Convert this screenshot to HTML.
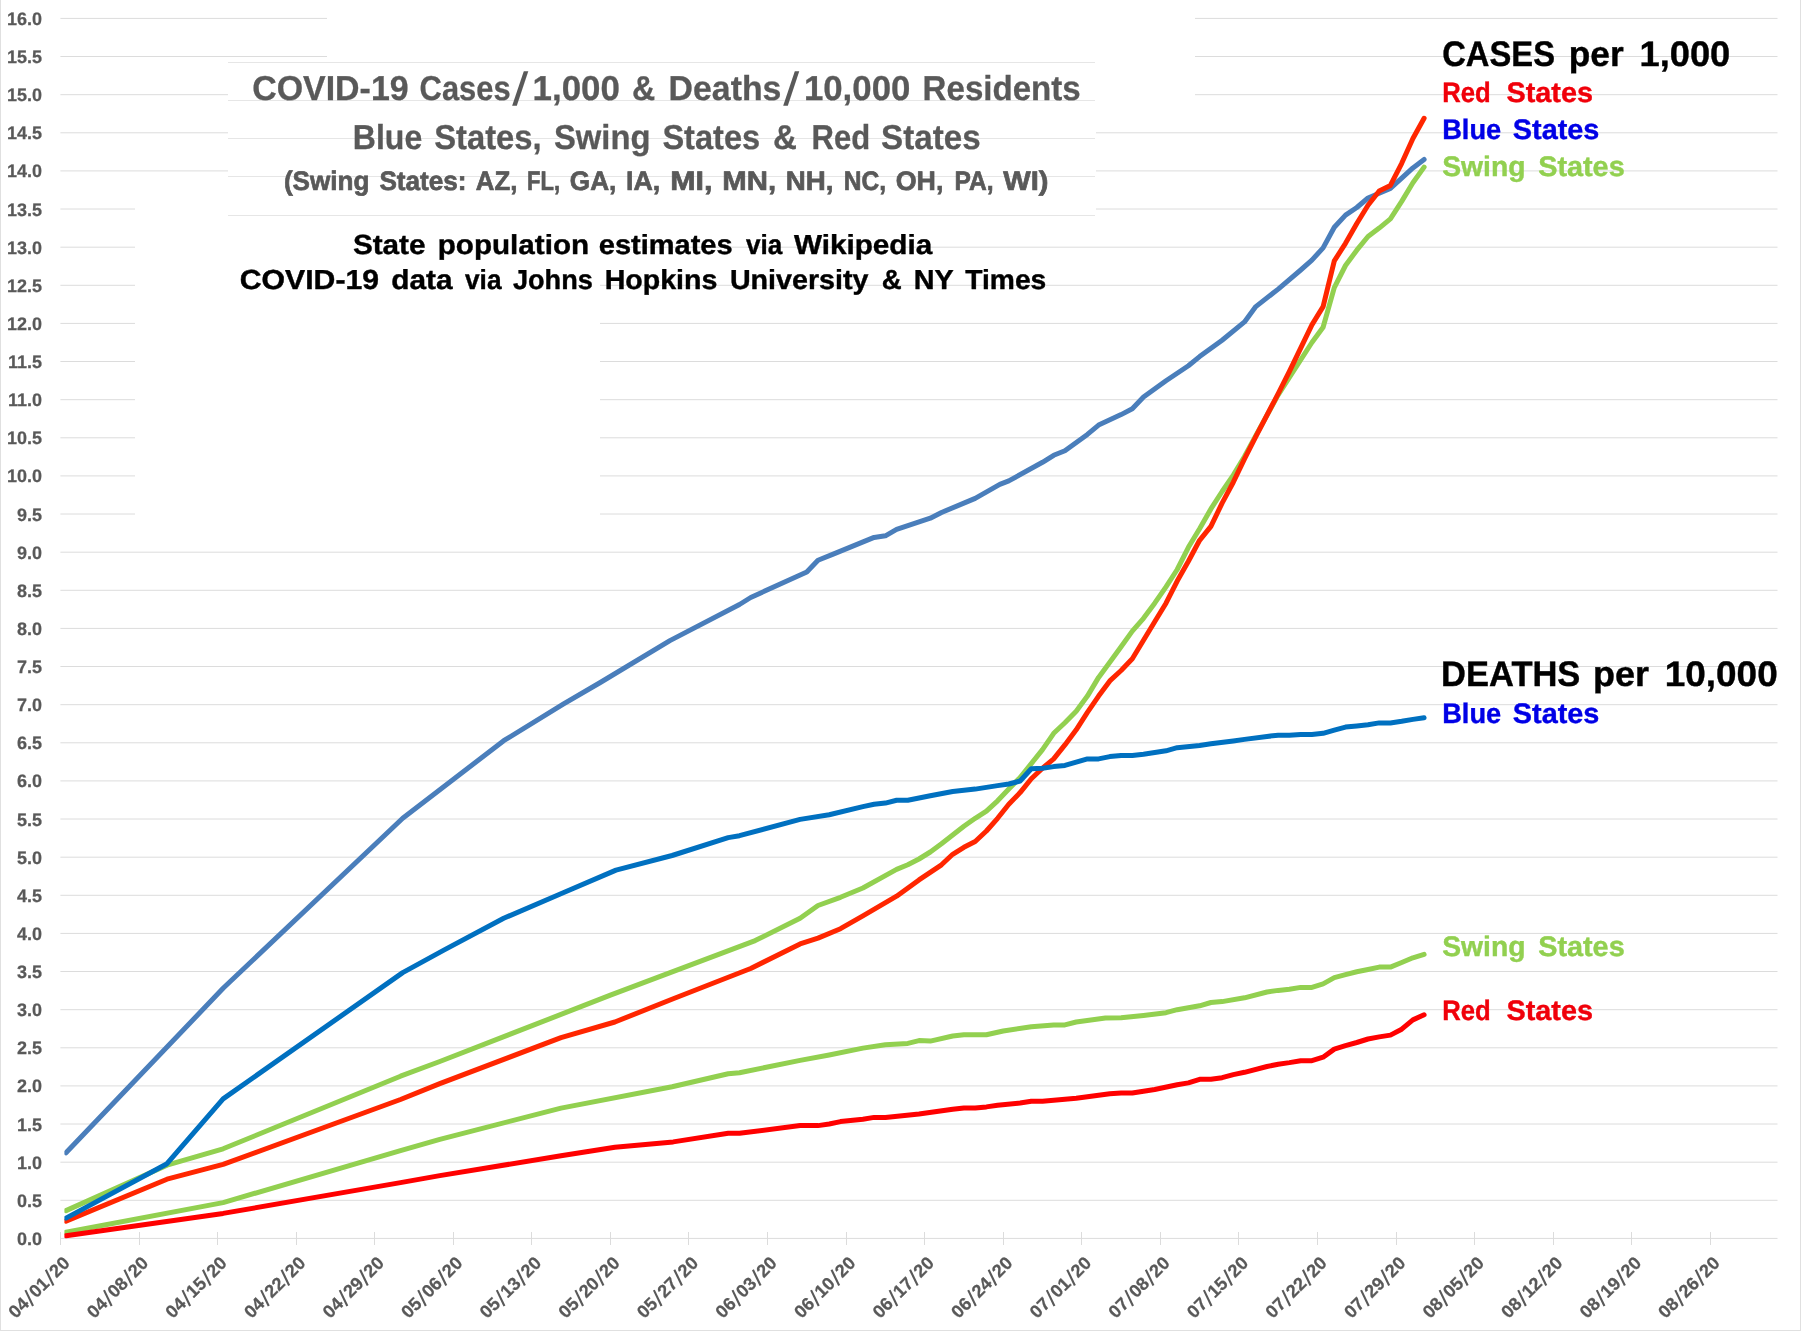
<!DOCTYPE html>
<html><head><meta charset="utf-8"><title>COVID-19 Cases and Deaths: Blue, Swing and Red States</title>
<style>
html,body{margin:0;padding:0;background:#fff;}
body{width:1801px;height:1331px;overflow:hidden;}
svg{display:block;will-change:transform;}
text{font-family:"Liberation Sans",sans-serif;font-weight:bold;text-rendering:geometricPrecision;}
.ax{fill:#595959;font-size:18px;stroke:#595959;stroke-width:0.25px;}
.ttl{fill:#595959;stroke:#595959;stroke-width:0.3px;}
.ttl3{fill:#595959;stroke:#595959;stroke-width:0.7px;}
.blk{fill:#000;stroke:#000;stroke-width:0.4px;}
.c{stroke-width:0.4px;}
</style></head><body>
<svg width="1801" height="1331" viewBox="0 0 1801 1331">
<rect x="0" y="0" width="1801" height="1331" fill="#ffffff"/>
<rect x="0" y="0" width="1" height="1331" fill="#e0e0e0"/>
<rect x="0" y="1330" width="1801" height="1" fill="#e0e0e0"/>
<rect x="1800" y="0" width="1" height="1331" fill="#e0e0e0"/>
<g stroke="#dcdcdc" stroke-width="1" fill="none">
<line x1="60.4" y1="1238.4" x2="1777.5" y2="1238.4"/>
<line x1="60.4" y1="1200.3" x2="1777.5" y2="1200.3"/>
<line x1="60.4" y1="1162.2" x2="1777.5" y2="1162.2"/>
<line x1="60.4" y1="1124.0" x2="1777.5" y2="1124.0"/>
<line x1="60.4" y1="1085.9" x2="1777.5" y2="1085.9"/>
<line x1="60.4" y1="1047.8" x2="1777.5" y2="1047.8"/>
<line x1="60.4" y1="1009.7" x2="1777.5" y2="1009.7"/>
<line x1="60.4" y1="971.5" x2="1777.5" y2="971.5"/>
<line x1="60.4" y1="933.4" x2="1777.5" y2="933.4"/>
<line x1="60.4" y1="895.3" x2="1777.5" y2="895.3"/>
<line x1="60.4" y1="857.2" x2="1777.5" y2="857.2"/>
<line x1="60.4" y1="819.0" x2="1777.5" y2="819.0"/>
<line x1="60.4" y1="780.9" x2="1777.5" y2="780.9"/>
<line x1="60.4" y1="742.8" x2="1777.5" y2="742.8"/>
<line x1="60.4" y1="704.7" x2="1777.5" y2="704.7"/>
<line x1="60.4" y1="666.5" x2="1777.5" y2="666.5"/>
<line x1="60.4" y1="628.4" x2="1777.5" y2="628.4"/>
<line x1="60.4" y1="590.3" x2="1777.5" y2="590.3"/>
<line x1="60.4" y1="552.2" x2="1777.5" y2="552.2"/>
<line x1="60.4" y1="514.0" x2="135.0" y2="514.0"/>
<line x1="600.0" y1="514.0" x2="1777.5" y2="514.0"/>
<line x1="60.4" y1="475.9" x2="135.0" y2="475.9"/>
<line x1="600.0" y1="475.9" x2="1777.5" y2="475.9"/>
<line x1="60.4" y1="437.8" x2="135.0" y2="437.8"/>
<line x1="600.0" y1="437.8" x2="1777.5" y2="437.8"/>
<line x1="60.4" y1="399.7" x2="135.0" y2="399.7"/>
<line x1="600.0" y1="399.7" x2="1777.5" y2="399.7"/>
<line x1="60.4" y1="361.5" x2="135.0" y2="361.5"/>
<line x1="600.0" y1="361.5" x2="1777.5" y2="361.5"/>
<line x1="60.4" y1="323.4" x2="135.0" y2="323.4"/>
<line x1="600.0" y1="323.4" x2="1777.5" y2="323.4"/>
<line x1="60.4" y1="285.3" x2="135.0" y2="285.3"/>
<line x1="600.0" y1="285.3" x2="1777.5" y2="285.3"/>
<line x1="60.4" y1="247.2" x2="135.0" y2="247.2"/>
<line x1="600.0" y1="247.2" x2="1777.5" y2="247.2"/>
<line x1="60.4" y1="209.0" x2="135.0" y2="209.0"/>
<line x1="1096.0" y1="209.0" x2="1777.5" y2="209.0"/>
<line x1="60.4" y1="170.9" x2="228.0" y2="170.9"/>
<line x1="1096.0" y1="170.9" x2="1777.5" y2="170.9"/>
<line x1="60.4" y1="132.8" x2="228.0" y2="132.8"/>
<line x1="1096.0" y1="132.8" x2="1777.5" y2="132.8"/>
<line x1="60.4" y1="94.7" x2="228.0" y2="94.7"/>
<line x1="1195.0" y1="94.7" x2="1777.5" y2="94.7"/>
<line x1="60.4" y1="56.5" x2="327.0" y2="56.5"/>
<line x1="1195.0" y1="56.5" x2="1777.5" y2="56.5"/>
<line x1="60.4" y1="18.4" x2="327.0" y2="18.4"/>
<line x1="1195.0" y1="18.4" x2="1777.5" y2="18.4"/>
</g>
<g stroke="#e6e6e6" stroke-width="1" fill="none" shape-rendering="crispEdges">
<line x1="228" y1="62.3" x2="1095" y2="62.3"/>
<line x1="228" y1="100.5" x2="1095" y2="100.5"/>
<line x1="228" y1="138.4" x2="1095" y2="138.4"/>
<line x1="228" y1="176.3" x2="1095" y2="176.3"/>
<line x1="228" y1="215.3" x2="1095" y2="215.3"/>
</g>
<g stroke="#dcdcdc" stroke-width="1" fill="none" shape-rendering="crispEdges">
<line x1="60.4" y1="1231.9" x2="60.4" y2="1244.9"/>
<line x1="139.0" y1="1231.9" x2="139.0" y2="1244.9"/>
<line x1="217.5" y1="1231.9" x2="217.5" y2="1244.9"/>
<line x1="296.1" y1="1231.9" x2="296.1" y2="1244.9"/>
<line x1="374.7" y1="1231.9" x2="374.7" y2="1244.9"/>
<line x1="453.2" y1="1231.9" x2="453.2" y2="1244.9"/>
<line x1="531.8" y1="1231.9" x2="531.8" y2="1244.9"/>
<line x1="610.4" y1="1231.9" x2="610.4" y2="1244.9"/>
<line x1="688.9" y1="1231.9" x2="688.9" y2="1244.9"/>
<line x1="767.5" y1="1231.9" x2="767.5" y2="1244.9"/>
<line x1="846.1" y1="1231.9" x2="846.1" y2="1244.9"/>
<line x1="924.6" y1="1231.9" x2="924.6" y2="1244.9"/>
<line x1="1003.2" y1="1231.9" x2="1003.2" y2="1244.9"/>
<line x1="1081.8" y1="1231.9" x2="1081.8" y2="1244.9"/>
<line x1="1160.4" y1="1231.9" x2="1160.4" y2="1244.9"/>
<line x1="1238.9" y1="1231.9" x2="1238.9" y2="1244.9"/>
<line x1="1317.5" y1="1231.9" x2="1317.5" y2="1244.9"/>
<line x1="1396.1" y1="1231.9" x2="1396.1" y2="1244.9"/>
<line x1="1474.6" y1="1231.9" x2="1474.6" y2="1244.9"/>
<line x1="1553.2" y1="1231.9" x2="1553.2" y2="1244.9"/>
<line x1="1631.8" y1="1231.9" x2="1631.8" y2="1244.9"/>
<line x1="1710.3" y1="1231.9" x2="1710.3" y2="1244.9"/>
</g>
<g class="ax" text-anchor="end">
<text x="42.0" y="1244.9">0.0</text>
<text x="42.0" y="1206.8">0.5</text>
<text x="42.0" y="1168.7">1.0</text>
<text x="42.0" y="1130.5">1.5</text>
<text x="42.0" y="1092.4">2.0</text>
<text x="42.0" y="1054.3">2.5</text>
<text x="42.0" y="1016.2">3.0</text>
<text x="42.0" y="978.0">3.5</text>
<text x="42.0" y="939.9">4.0</text>
<text x="42.0" y="901.8">4.5</text>
<text x="42.0" y="863.7">5.0</text>
<text x="42.0" y="825.5">5.5</text>
<text x="42.0" y="787.4">6.0</text>
<text x="42.0" y="749.3">6.5</text>
<text x="42.0" y="711.2">7.0</text>
<text x="42.0" y="673.0">7.5</text>
<text x="42.0" y="634.9">8.0</text>
<text x="42.0" y="596.8">8.5</text>
<text x="42.0" y="558.7">9.0</text>
<text x="42.0" y="520.5">9.5</text>
<text x="42.0" y="482.4">10.0</text>
<text x="42.0" y="444.3">10.5</text>
<text x="42.0" y="406.2">11.0</text>
<text x="42.0" y="368.0">11.5</text>
<text x="42.0" y="329.9">12.0</text>
<text x="42.0" y="291.8">12.5</text>
<text x="42.0" y="253.7">13.0</text>
<text x="42.0" y="215.5">13.5</text>
<text x="42.0" y="177.4">14.0</text>
<text x="42.0" y="139.3">14.5</text>
<text x="42.0" y="101.2">15.0</text>
<text x="42.0" y="63.0">15.5</text>
<text x="42.0" y="24.9">16.0</text>
</g>
<g class="ax">
<g transform="translate(70.9,1264.1) rotate(-45)">
<text x="-78.04" y="0" textLength="20.28" lengthAdjust="spacingAndGlyphs">04</text>
<line x1="-56.36" y1="2.8" x2="-50.56" y2="-13.8" stroke="#595959" stroke-width="2.1"/>
<text x="-49.16" y="0" textLength="20.28" lengthAdjust="spacingAndGlyphs">01</text>
<line x1="-27.48" y1="2.8" x2="-21.68" y2="-13.8" stroke="#595959" stroke-width="2.1"/>
<text x="-20.28" y="0" textLength="20.28" lengthAdjust="spacingAndGlyphs">20</text>
</g>
<g transform="translate(149.5,1264.1) rotate(-45)">
<text x="-78.04" y="0" textLength="20.28" lengthAdjust="spacingAndGlyphs">04</text>
<line x1="-56.36" y1="2.8" x2="-50.56" y2="-13.8" stroke="#595959" stroke-width="2.1"/>
<text x="-49.16" y="0" textLength="20.28" lengthAdjust="spacingAndGlyphs">08</text>
<line x1="-27.48" y1="2.8" x2="-21.68" y2="-13.8" stroke="#595959" stroke-width="2.1"/>
<text x="-20.28" y="0" textLength="20.28" lengthAdjust="spacingAndGlyphs">20</text>
</g>
<g transform="translate(228.0,1264.1) rotate(-45)">
<text x="-78.04" y="0" textLength="20.28" lengthAdjust="spacingAndGlyphs">04</text>
<line x1="-56.36" y1="2.8" x2="-50.56" y2="-13.8" stroke="#595959" stroke-width="2.1"/>
<text x="-49.16" y="0" textLength="20.28" lengthAdjust="spacingAndGlyphs">15</text>
<line x1="-27.48" y1="2.8" x2="-21.68" y2="-13.8" stroke="#595959" stroke-width="2.1"/>
<text x="-20.28" y="0" textLength="20.28" lengthAdjust="spacingAndGlyphs">20</text>
</g>
<g transform="translate(306.6,1264.1) rotate(-45)">
<text x="-78.04" y="0" textLength="20.28" lengthAdjust="spacingAndGlyphs">04</text>
<line x1="-56.36" y1="2.8" x2="-50.56" y2="-13.8" stroke="#595959" stroke-width="2.1"/>
<text x="-49.16" y="0" textLength="20.28" lengthAdjust="spacingAndGlyphs">22</text>
<line x1="-27.48" y1="2.8" x2="-21.68" y2="-13.8" stroke="#595959" stroke-width="2.1"/>
<text x="-20.28" y="0" textLength="20.28" lengthAdjust="spacingAndGlyphs">20</text>
</g>
<g transform="translate(385.2,1264.1) rotate(-45)">
<text x="-78.04" y="0" textLength="20.28" lengthAdjust="spacingAndGlyphs">04</text>
<line x1="-56.36" y1="2.8" x2="-50.56" y2="-13.8" stroke="#595959" stroke-width="2.1"/>
<text x="-49.16" y="0" textLength="20.28" lengthAdjust="spacingAndGlyphs">29</text>
<line x1="-27.48" y1="2.8" x2="-21.68" y2="-13.8" stroke="#595959" stroke-width="2.1"/>
<text x="-20.28" y="0" textLength="20.28" lengthAdjust="spacingAndGlyphs">20</text>
</g>
<g transform="translate(463.7,1264.1) rotate(-45)">
<text x="-78.04" y="0" textLength="20.28" lengthAdjust="spacingAndGlyphs">05</text>
<line x1="-56.36" y1="2.8" x2="-50.56" y2="-13.8" stroke="#595959" stroke-width="2.1"/>
<text x="-49.16" y="0" textLength="20.28" lengthAdjust="spacingAndGlyphs">06</text>
<line x1="-27.48" y1="2.8" x2="-21.68" y2="-13.8" stroke="#595959" stroke-width="2.1"/>
<text x="-20.28" y="0" textLength="20.28" lengthAdjust="spacingAndGlyphs">20</text>
</g>
<g transform="translate(542.3,1264.1) rotate(-45)">
<text x="-78.04" y="0" textLength="20.28" lengthAdjust="spacingAndGlyphs">05</text>
<line x1="-56.36" y1="2.8" x2="-50.56" y2="-13.8" stroke="#595959" stroke-width="2.1"/>
<text x="-49.16" y="0" textLength="20.28" lengthAdjust="spacingAndGlyphs">13</text>
<line x1="-27.48" y1="2.8" x2="-21.68" y2="-13.8" stroke="#595959" stroke-width="2.1"/>
<text x="-20.28" y="0" textLength="20.28" lengthAdjust="spacingAndGlyphs">20</text>
</g>
<g transform="translate(620.9,1264.1) rotate(-45)">
<text x="-78.04" y="0" textLength="20.28" lengthAdjust="spacingAndGlyphs">05</text>
<line x1="-56.36" y1="2.8" x2="-50.56" y2="-13.8" stroke="#595959" stroke-width="2.1"/>
<text x="-49.16" y="0" textLength="20.28" lengthAdjust="spacingAndGlyphs">20</text>
<line x1="-27.48" y1="2.8" x2="-21.68" y2="-13.8" stroke="#595959" stroke-width="2.1"/>
<text x="-20.28" y="0" textLength="20.28" lengthAdjust="spacingAndGlyphs">20</text>
</g>
<g transform="translate(699.4,1264.1) rotate(-45)">
<text x="-78.04" y="0" textLength="20.28" lengthAdjust="spacingAndGlyphs">05</text>
<line x1="-56.36" y1="2.8" x2="-50.56" y2="-13.8" stroke="#595959" stroke-width="2.1"/>
<text x="-49.16" y="0" textLength="20.28" lengthAdjust="spacingAndGlyphs">27</text>
<line x1="-27.48" y1="2.8" x2="-21.68" y2="-13.8" stroke="#595959" stroke-width="2.1"/>
<text x="-20.28" y="0" textLength="20.28" lengthAdjust="spacingAndGlyphs">20</text>
</g>
<g transform="translate(778.0,1264.1) rotate(-45)">
<text x="-78.04" y="0" textLength="20.28" lengthAdjust="spacingAndGlyphs">06</text>
<line x1="-56.36" y1="2.8" x2="-50.56" y2="-13.8" stroke="#595959" stroke-width="2.1"/>
<text x="-49.16" y="0" textLength="20.28" lengthAdjust="spacingAndGlyphs">03</text>
<line x1="-27.48" y1="2.8" x2="-21.68" y2="-13.8" stroke="#595959" stroke-width="2.1"/>
<text x="-20.28" y="0" textLength="20.28" lengthAdjust="spacingAndGlyphs">20</text>
</g>
<g transform="translate(856.6,1264.1) rotate(-45)">
<text x="-78.04" y="0" textLength="20.28" lengthAdjust="spacingAndGlyphs">06</text>
<line x1="-56.36" y1="2.8" x2="-50.56" y2="-13.8" stroke="#595959" stroke-width="2.1"/>
<text x="-49.16" y="0" textLength="20.28" lengthAdjust="spacingAndGlyphs">10</text>
<line x1="-27.48" y1="2.8" x2="-21.68" y2="-13.8" stroke="#595959" stroke-width="2.1"/>
<text x="-20.28" y="0" textLength="20.28" lengthAdjust="spacingAndGlyphs">20</text>
</g>
<g transform="translate(935.1,1264.1) rotate(-45)">
<text x="-78.04" y="0" textLength="20.28" lengthAdjust="spacingAndGlyphs">06</text>
<line x1="-56.36" y1="2.8" x2="-50.56" y2="-13.8" stroke="#595959" stroke-width="2.1"/>
<text x="-49.16" y="0" textLength="20.28" lengthAdjust="spacingAndGlyphs">17</text>
<line x1="-27.48" y1="2.8" x2="-21.68" y2="-13.8" stroke="#595959" stroke-width="2.1"/>
<text x="-20.28" y="0" textLength="20.28" lengthAdjust="spacingAndGlyphs">20</text>
</g>
<g transform="translate(1013.7,1264.1) rotate(-45)">
<text x="-78.04" y="0" textLength="20.28" lengthAdjust="spacingAndGlyphs">06</text>
<line x1="-56.36" y1="2.8" x2="-50.56" y2="-13.8" stroke="#595959" stroke-width="2.1"/>
<text x="-49.16" y="0" textLength="20.28" lengthAdjust="spacingAndGlyphs">24</text>
<line x1="-27.48" y1="2.8" x2="-21.68" y2="-13.8" stroke="#595959" stroke-width="2.1"/>
<text x="-20.28" y="0" textLength="20.28" lengthAdjust="spacingAndGlyphs">20</text>
</g>
<g transform="translate(1092.3,1264.1) rotate(-45)">
<text x="-78.04" y="0" textLength="20.28" lengthAdjust="spacingAndGlyphs">07</text>
<line x1="-56.36" y1="2.8" x2="-50.56" y2="-13.8" stroke="#595959" stroke-width="2.1"/>
<text x="-49.16" y="0" textLength="20.28" lengthAdjust="spacingAndGlyphs">01</text>
<line x1="-27.48" y1="2.8" x2="-21.68" y2="-13.8" stroke="#595959" stroke-width="2.1"/>
<text x="-20.28" y="0" textLength="20.28" lengthAdjust="spacingAndGlyphs">20</text>
</g>
<g transform="translate(1170.9,1264.1) rotate(-45)">
<text x="-78.04" y="0" textLength="20.28" lengthAdjust="spacingAndGlyphs">07</text>
<line x1="-56.36" y1="2.8" x2="-50.56" y2="-13.8" stroke="#595959" stroke-width="2.1"/>
<text x="-49.16" y="0" textLength="20.28" lengthAdjust="spacingAndGlyphs">08</text>
<line x1="-27.48" y1="2.8" x2="-21.68" y2="-13.8" stroke="#595959" stroke-width="2.1"/>
<text x="-20.28" y="0" textLength="20.28" lengthAdjust="spacingAndGlyphs">20</text>
</g>
<g transform="translate(1249.4,1264.1) rotate(-45)">
<text x="-78.04" y="0" textLength="20.28" lengthAdjust="spacingAndGlyphs">07</text>
<line x1="-56.36" y1="2.8" x2="-50.56" y2="-13.8" stroke="#595959" stroke-width="2.1"/>
<text x="-49.16" y="0" textLength="20.28" lengthAdjust="spacingAndGlyphs">15</text>
<line x1="-27.48" y1="2.8" x2="-21.68" y2="-13.8" stroke="#595959" stroke-width="2.1"/>
<text x="-20.28" y="0" textLength="20.28" lengthAdjust="spacingAndGlyphs">20</text>
</g>
<g transform="translate(1328.0,1264.1) rotate(-45)">
<text x="-78.04" y="0" textLength="20.28" lengthAdjust="spacingAndGlyphs">07</text>
<line x1="-56.36" y1="2.8" x2="-50.56" y2="-13.8" stroke="#595959" stroke-width="2.1"/>
<text x="-49.16" y="0" textLength="20.28" lengthAdjust="spacingAndGlyphs">22</text>
<line x1="-27.48" y1="2.8" x2="-21.68" y2="-13.8" stroke="#595959" stroke-width="2.1"/>
<text x="-20.28" y="0" textLength="20.28" lengthAdjust="spacingAndGlyphs">20</text>
</g>
<g transform="translate(1406.6,1264.1) rotate(-45)">
<text x="-78.04" y="0" textLength="20.28" lengthAdjust="spacingAndGlyphs">07</text>
<line x1="-56.36" y1="2.8" x2="-50.56" y2="-13.8" stroke="#595959" stroke-width="2.1"/>
<text x="-49.16" y="0" textLength="20.28" lengthAdjust="spacingAndGlyphs">29</text>
<line x1="-27.48" y1="2.8" x2="-21.68" y2="-13.8" stroke="#595959" stroke-width="2.1"/>
<text x="-20.28" y="0" textLength="20.28" lengthAdjust="spacingAndGlyphs">20</text>
</g>
<g transform="translate(1485.1,1264.1) rotate(-45)">
<text x="-78.04" y="0" textLength="20.28" lengthAdjust="spacingAndGlyphs">08</text>
<line x1="-56.36" y1="2.8" x2="-50.56" y2="-13.8" stroke="#595959" stroke-width="2.1"/>
<text x="-49.16" y="0" textLength="20.28" lengthAdjust="spacingAndGlyphs">05</text>
<line x1="-27.48" y1="2.8" x2="-21.68" y2="-13.8" stroke="#595959" stroke-width="2.1"/>
<text x="-20.28" y="0" textLength="20.28" lengthAdjust="spacingAndGlyphs">20</text>
</g>
<g transform="translate(1563.7,1264.1) rotate(-45)">
<text x="-78.04" y="0" textLength="20.28" lengthAdjust="spacingAndGlyphs">08</text>
<line x1="-56.36" y1="2.8" x2="-50.56" y2="-13.8" stroke="#595959" stroke-width="2.1"/>
<text x="-49.16" y="0" textLength="20.28" lengthAdjust="spacingAndGlyphs">12</text>
<line x1="-27.48" y1="2.8" x2="-21.68" y2="-13.8" stroke="#595959" stroke-width="2.1"/>
<text x="-20.28" y="0" textLength="20.28" lengthAdjust="spacingAndGlyphs">20</text>
</g>
<g transform="translate(1642.3,1264.1) rotate(-45)">
<text x="-78.04" y="0" textLength="20.28" lengthAdjust="spacingAndGlyphs">08</text>
<line x1="-56.36" y1="2.8" x2="-50.56" y2="-13.8" stroke="#595959" stroke-width="2.1"/>
<text x="-49.16" y="0" textLength="20.28" lengthAdjust="spacingAndGlyphs">19</text>
<line x1="-27.48" y1="2.8" x2="-21.68" y2="-13.8" stroke="#595959" stroke-width="2.1"/>
<text x="-20.28" y="0" textLength="20.28" lengthAdjust="spacingAndGlyphs">20</text>
</g>
<g transform="translate(1720.8,1264.1) rotate(-45)">
<text x="-78.04" y="0" textLength="20.28" lengthAdjust="spacingAndGlyphs">08</text>
<line x1="-56.36" y1="2.8" x2="-50.56" y2="-13.8" stroke="#595959" stroke-width="2.1"/>
<text x="-49.16" y="0" textLength="20.28" lengthAdjust="spacingAndGlyphs">26</text>
<line x1="-27.48" y1="2.8" x2="-21.68" y2="-13.8" stroke="#595959" stroke-width="2.1"/>
<text x="-20.28" y="0" textLength="20.28" lengthAdjust="spacingAndGlyphs">20</text>
</g>
</g>
<defs><clipPath id="cp"><rect x="64.4" y="0" width="1800" height="1331"/></clipPath></defs>
<g fill="none" stroke-width="5" stroke-linecap="round" stroke-linejoin="round" clip-path="url(#cp)">
<polyline stroke="#4a7ebb" points="66.0,1152.8 223.1,988.3 402.7,818.3 503.7,740.7 563.2,704.2 600.3,682.5 669.9,640.6 739.5,604.5 750.7,597.5 806.8,572.0 818.0,560.2 832.6,554.4 874.1,537.4 885.4,535.8 896.6,529.4 930.3,518.2 941.5,512.5 975.2,498.4 999.8,484.4 1008.8,480.9 1042.5,462.3 1053.7,455.3 1064.9,450.7 1087.4,434.4 1098.6,425.1 1121.1,414.6 1132.3,408.8 1143.5,397.1 1166.0,380.8 1188.4,365.7 1199.6,356.6 1222.1,340.2 1244.5,321.9 1255.8,306.6 1278.2,289.1 1300.7,270.0 1311.9,260.1 1323.1,247.9 1334.3,227.3 1345.5,215.1 1356.8,207.5 1368.0,198.0 1379.2,193.3 1390.4,188.4 1401.7,178.1 1412.9,167.9 1424.1,159.5"/>
<polyline stroke="#92d050" points="66.0,1210.6 167.0,1165.2 223.1,1148.8 400.5,1076.2 439.8,1061.5 610.4,995.2 755.2,940.6 800.1,918.3 818.0,905.5 840.5,897.3 862.9,888.0 896.6,869.4 907.8,864.8 919.0,859.0 930.3,852.0 941.5,843.8 963.9,826.3 975.2,818.3 986.4,811.2 997.6,800.8 1008.8,789.1 1020.1,777.5 1031.3,763.6 1042.5,749.6 1053.7,733.3 1064.9,722.8 1076.2,711.2 1087.4,696.1 1098.6,677.4 1109.8,662.3 1121.1,646.7 1132.3,631.1 1143.5,618.3 1154.7,603.2 1166.0,586.9 1177.2,569.5 1188.4,547.3 1199.6,528.7 1210.9,508.9 1222.1,491.5 1233.3,475.1 1244.5,456.5 1255.8,435.6 1278.2,394.8 1289.4,377.4 1311.9,342.5 1323.1,327.2 1334.3,287.6 1345.5,265.5 1356.8,250.2 1368.0,236.5 1379.2,228.1 1390.4,218.9 1401.7,201.4 1412.9,182.8 1424.1,167.1"/>
<polyline stroke="#ff2600" points="66.0,1221.1 167.0,1179.2 223.1,1164.4 400.5,1099.5 439.8,1083.6 561.0,1037.6 614.9,1022.0 673.2,998.7 750.7,968.5 800.1,943.9 818.0,938.1 840.5,928.7 862.9,915.9 896.6,896.2 919.0,879.9 941.5,864.8 952.7,854.3 963.9,847.3 975.2,841.5 986.4,831.0 997.6,818.3 1008.8,804.3 1020.1,792.6 1031.3,778.7 1042.5,768.2 1053.7,758.9 1064.9,744.9 1076.2,729.8 1087.4,712.4 1098.6,696.1 1109.8,680.9 1121.1,670.5 1132.3,658.8 1143.5,640.2 1154.7,621.8 1166.0,603.2 1177.2,581.1 1188.4,561.3 1199.6,540.3 1210.9,526.4 1222.1,503.1 1233.3,482.2 1244.5,458.9 1255.8,436.7 1278.2,393.6 1289.4,371.5 1311.9,324.9 1323.1,306.6 1334.3,260.9 1345.5,243.3 1356.8,223.5 1368.0,205.2 1379.2,191.0 1390.4,185.4 1401.7,163.3 1412.9,138.5 1424.1,118.3"/>
<polyline stroke="#0070c0" points="66.0,1218.1 167.0,1163.7 223.1,1098.9 402.7,972.6 444.3,949.9 503.7,918.3 563.2,892.7 616.0,870.1 672.1,855.5 728.2,837.6 739.5,835.7 800.1,819.4 829.2,814.8 862.9,806.6 874.1,804.3 885.4,803.1 896.6,800.3 907.8,800.3 930.3,795.7 952.7,791.5 975.2,789.1 997.6,785.6 1008.8,784.0 1020.1,781.0 1031.3,768.7 1042.5,768.2 1053.7,766.6 1064.9,765.4 1087.4,758.9 1098.6,758.9 1109.8,756.6 1121.1,755.4 1132.3,755.4 1143.5,754.2 1166.0,750.8 1177.2,747.7 1199.6,745.4 1210.9,743.8 1233.3,741.0 1244.5,739.4 1267.0,736.4 1278.2,735.2 1289.4,735.2 1300.7,734.5 1311.9,734.5 1323.1,733.3 1334.3,730.1 1345.5,727.1 1356.8,725.9 1368.0,724.7 1379.2,722.9 1390.4,722.9 1401.7,721.3 1412.9,719.4 1424.1,717.8"/>
<polyline stroke="#92d050" points="66.0,1232.3 223.1,1202.6 400.5,1150.7 439.8,1139.3 561.0,1108.1 672.1,1086.7 728.2,1073.7 739.5,1072.7 800.1,1060.4 829.2,1055.0 862.9,1048.1 885.4,1044.7 907.8,1043.4 919.0,1040.6 930.3,1041.1 952.7,1036.0 963.9,1034.8 986.4,1034.8 1003.2,1031.0 1031.3,1026.7 1053.7,1024.9 1064.9,1024.9 1076.2,1022.0 1105.4,1018.0 1121.1,1017.8 1143.5,1015.5 1166.0,1012.7 1177.2,1009.7 1199.6,1005.8 1210.9,1002.5 1222.1,1001.6 1244.5,997.8 1267.0,992.0 1278.2,990.4 1289.4,989.2 1300.7,987.4 1311.9,987.4 1323.1,983.9 1334.3,977.6 1345.5,974.6 1356.8,971.8 1368.0,969.5 1379.2,967.1 1390.4,967.1 1401.7,962.5 1412.9,957.8 1424.1,954.4"/>
<polyline stroke="#ff0000" points="66.0,1235.8 223.1,1213.4 400.5,1182.6 439.8,1175.6 561.0,1155.8 614.9,1147.2 673.2,1141.9 728.2,1133.3 739.5,1133.3 800.1,1125.6 818.0,1125.6 829.2,1124.0 840.5,1121.6 862.9,1119.3 874.1,1117.4 885.4,1117.4 919.0,1114.0 952.7,1109.3 963.9,1108.1 975.2,1108.1 986.4,1106.9 997.6,1105.3 1020.1,1103.0 1031.3,1101.2 1042.5,1101.2 1076.2,1098.3 1109.8,1093.7 1121.1,1093.0 1132.3,1093.0 1154.7,1089.5 1177.2,1084.8 1188.4,1082.9 1199.6,1079.3 1210.9,1079.3 1222.1,1077.7 1233.3,1074.6 1244.5,1072.3 1267.0,1066.5 1278.2,1064.2 1289.4,1062.6 1300.7,1060.7 1311.9,1060.7 1323.1,1057.2 1334.3,1049.1 1345.5,1045.6 1356.8,1042.5 1368.0,1039.0 1379.2,1036.9 1390.4,1035.1 1401.7,1029.2 1412.9,1019.9 1424.1,1014.8"/>
</g>
<text class="ttl" x="252.20" y="99.6" font-size="34.5" textLength="156.41" lengthAdjust="spacingAndGlyphs">COVID-19</text>
<text class="ttl" x="419.60" y="99.6" font-size="34.5" textLength="90.99" lengthAdjust="spacingAndGlyphs">Cases</text>
<text class="ttl" x="532.60" y="99.6" font-size="34.5" textLength="87.32" lengthAdjust="spacingAndGlyphs">1,000</text>
<text class="ttl" x="632.10" y="99.6" font-size="34.5" textLength="23.21" lengthAdjust="spacingAndGlyphs">&amp;</text>
<text class="ttl" x="668.60" y="99.6" font-size="34.5" textLength="112.78" lengthAdjust="spacingAndGlyphs">Deaths</text>
<text class="ttl" x="803.90" y="99.6" font-size="34.5" textLength="106.49" lengthAdjust="spacingAndGlyphs">10,000</text>
<text class="ttl" x="922.60" y="99.6" font-size="34.5" textLength="158.11" lengthAdjust="spacingAndGlyphs">Residents</text>
<polygon fill="#595959" points="512.15,105.8 516.8,105.8 528.3,71.2 523.8,71.2"/>
<polygon fill="#595959" points="783.2,105.8 787.8,105.8 799.25,71.2 794.8,71.2"/>
<text class="ttl" x="352.80" y="148.6" font-size="34.5" textLength="69.40" lengthAdjust="spacingAndGlyphs">Blue</text>
<text class="ttl" x="434.20" y="148.6" font-size="34.5" textLength="107.51" lengthAdjust="spacingAndGlyphs">States,</text>
<text class="ttl" x="554.00" y="148.6" font-size="34.5" textLength="96.51" lengthAdjust="spacingAndGlyphs">Swing</text>
<text class="ttl" x="662.40" y="148.6" font-size="34.5" textLength="97.78" lengthAdjust="spacingAndGlyphs">States</text>
<text class="ttl" x="772.90" y="148.6" font-size="34.5" textLength="23.91" lengthAdjust="spacingAndGlyphs">&amp;</text>
<text class="ttl" x="811.50" y="148.6" font-size="34.5" textLength="58.61" lengthAdjust="spacingAndGlyphs">Red</text>
<text class="ttl" x="881.10" y="148.6" font-size="34.5" textLength="99.48" lengthAdjust="spacingAndGlyphs">States</text>
<text class="ttl3" x="283.90" y="189.5" font-size="26.8" textLength="85.51" lengthAdjust="spacingAndGlyphs">(Swing</text>
<text class="ttl3" x="379.40" y="189.5" font-size="26.8" textLength="87.19" lengthAdjust="spacingAndGlyphs">States:</text>
<text class="ttl3" x="475.80" y="189.5" font-size="26.8" textLength="41.50" lengthAdjust="spacingAndGlyphs">AZ,</text>
<text class="ttl3" x="527.10" y="189.5" font-size="26.8" textLength="32.89" lengthAdjust="spacingAndGlyphs">FL,</text>
<text class="ttl3" x="569.80" y="189.5" font-size="26.8" textLength="46.50" lengthAdjust="spacingAndGlyphs">GA,</text>
<text class="ttl3" x="626.00" y="189.5" font-size="26.8" textLength="34.20" lengthAdjust="spacingAndGlyphs">IA,</text>
<text class="ttl3" x="670.30" y="189.5" font-size="26.8" textLength="42.19" lengthAdjust="spacingAndGlyphs">MI,</text>
<text class="ttl3" x="722.30" y="189.5" font-size="26.8" textLength="53.80" lengthAdjust="spacingAndGlyphs">MN,</text>
<text class="ttl3" x="785.80" y="189.5" font-size="26.8" textLength="47.70" lengthAdjust="spacingAndGlyphs">NH,</text>
<text class="ttl3" x="843.70" y="189.5" font-size="26.8" textLength="42.30" lengthAdjust="spacingAndGlyphs">NC,</text>
<text class="ttl3" x="895.80" y="189.5" font-size="26.8" textLength="47.60" lengthAdjust="spacingAndGlyphs">OH,</text>
<text class="ttl3" x="954.40" y="189.5" font-size="26.8" textLength="39.09" lengthAdjust="spacingAndGlyphs">PA,</text>
<text class="ttl3" x="1003.30" y="189.5" font-size="26.8" textLength="45.19" lengthAdjust="spacingAndGlyphs">WI)</text>
<text class="blk" x="352.90" y="253.7" font-size="27.5" textLength="72.61" lengthAdjust="spacingAndGlyphs">State</text>
<text class="blk" x="437.70" y="253.7" font-size="27.5" textLength="151.50" lengthAdjust="spacingAndGlyphs">population</text>
<text class="blk" x="598.80" y="253.7" font-size="27.5" textLength="133.79" lengthAdjust="spacingAndGlyphs">estimates</text>
<text class="blk" x="745.90" y="253.7" font-size="27.5" textLength="36.32" lengthAdjust="spacingAndGlyphs">via</text>
<text class="blk" x="793.90" y="253.7" font-size="27.5" textLength="138.38" lengthAdjust="spacingAndGlyphs">Wikipedia</text>
<text class="blk" x="239.80" y="289.3" font-size="27.5" textLength="139.21" lengthAdjust="spacingAndGlyphs">COVID-19</text>
<text class="blk" x="391.30" y="289.3" font-size="27.5" textLength="61.30" lengthAdjust="spacingAndGlyphs">data</text>
<text class="blk" x="465.00" y="289.3" font-size="27.5" textLength="36.52" lengthAdjust="spacingAndGlyphs">via</text>
<text class="blk" x="512.90" y="289.3" font-size="27.5" textLength="79.90" lengthAdjust="spacingAndGlyphs">Johns</text>
<text class="blk" x="604.70" y="289.3" font-size="27.5" textLength="112.70" lengthAdjust="spacingAndGlyphs">Hopkins</text>
<text class="blk" x="729.90" y="289.3" font-size="27.5" textLength="138.61" lengthAdjust="spacingAndGlyphs">University</text>
<text class="blk" x="881.80" y="289.3" font-size="27.5" textLength="20.00" lengthAdjust="spacingAndGlyphs">&amp;</text>
<text class="blk" x="913.80" y="289.3" font-size="27.5" textLength="40.00" lengthAdjust="spacingAndGlyphs">NY</text>
<text class="blk" x="965.30" y="289.3" font-size="27.5" textLength="81.00" lengthAdjust="spacingAndGlyphs">Times</text>
<text class="blk" x="1442.20" y="66.0" font-size="35.5" textLength="112.81" lengthAdjust="spacingAndGlyphs">CASES</text>
<text class="blk" x="1568.80" y="66.0" font-size="35.5" textLength="54.81" lengthAdjust="spacingAndGlyphs">per</text>
<text class="blk" x="1639.50" y="66.0" font-size="35.5" textLength="90.72" lengthAdjust="spacingAndGlyphs">1,000</text>
<text class="c" x="1442.20" y="102.3" font-size="28.2" textLength="48.50" lengthAdjust="spacingAndGlyphs" fill="#f0000a" stroke="#f0000a">Red</text>
<text class="c" x="1506.50" y="102.3" font-size="28.2" textLength="86.49" lengthAdjust="spacingAndGlyphs" fill="#f0000a" stroke="#f0000a">States</text>
<text class="c" x="1442.20" y="138.6" font-size="28.2" textLength="59.00" lengthAdjust="spacingAndGlyphs" fill="#0000e6" stroke="#0000e6">Blue</text>
<text class="c" x="1512.80" y="138.6" font-size="28.2" textLength="86.59" lengthAdjust="spacingAndGlyphs" fill="#0000e6" stroke="#0000e6">States</text>
<text class="c" x="1442.20" y="175.8" font-size="28.2" textLength="83.31" lengthAdjust="spacingAndGlyphs" fill="#92d050" stroke="#92d050">Swing</text>
<text class="c" x="1538.20" y="175.8" font-size="28.2" textLength="86.49" lengthAdjust="spacingAndGlyphs" fill="#92d050" stroke="#92d050">States</text>
<text class="blk" x="1441.10" y="686.0" font-size="35.5" textLength="139.30" lengthAdjust="spacingAndGlyphs">DEATHS</text>
<text class="blk" x="1593.00" y="686.0" font-size="35.5" textLength="56.01" lengthAdjust="spacingAndGlyphs">per</text>
<text class="blk" x="1664.80" y="686.0" font-size="35.5" textLength="112.89" lengthAdjust="spacingAndGlyphs">10,000</text>
<text class="c" x="1442.20" y="722.5" font-size="28.2" textLength="59.00" lengthAdjust="spacingAndGlyphs" fill="#0000e6" stroke="#0000e6">Blue</text>
<text class="c" x="1512.80" y="722.5" font-size="28.2" textLength="86.59" lengthAdjust="spacingAndGlyphs" fill="#0000e6" stroke="#0000e6">States</text>
<text class="c" x="1442.20" y="956.2" font-size="28.2" textLength="83.31" lengthAdjust="spacingAndGlyphs" fill="#92d050" stroke="#92d050">Swing</text>
<text class="c" x="1538.20" y="956.2" font-size="28.2" textLength="86.49" lengthAdjust="spacingAndGlyphs" fill="#92d050" stroke="#92d050">States</text>
<text class="c" x="1442.20" y="1020.2" font-size="28.2" textLength="48.50" lengthAdjust="spacingAndGlyphs" fill="#f0000a" stroke="#f0000a">Red</text>
<text class="c" x="1506.50" y="1020.2" font-size="28.2" textLength="86.49" lengthAdjust="spacingAndGlyphs" fill="#f0000a" stroke="#f0000a">States</text>
</svg>
</body></html>
